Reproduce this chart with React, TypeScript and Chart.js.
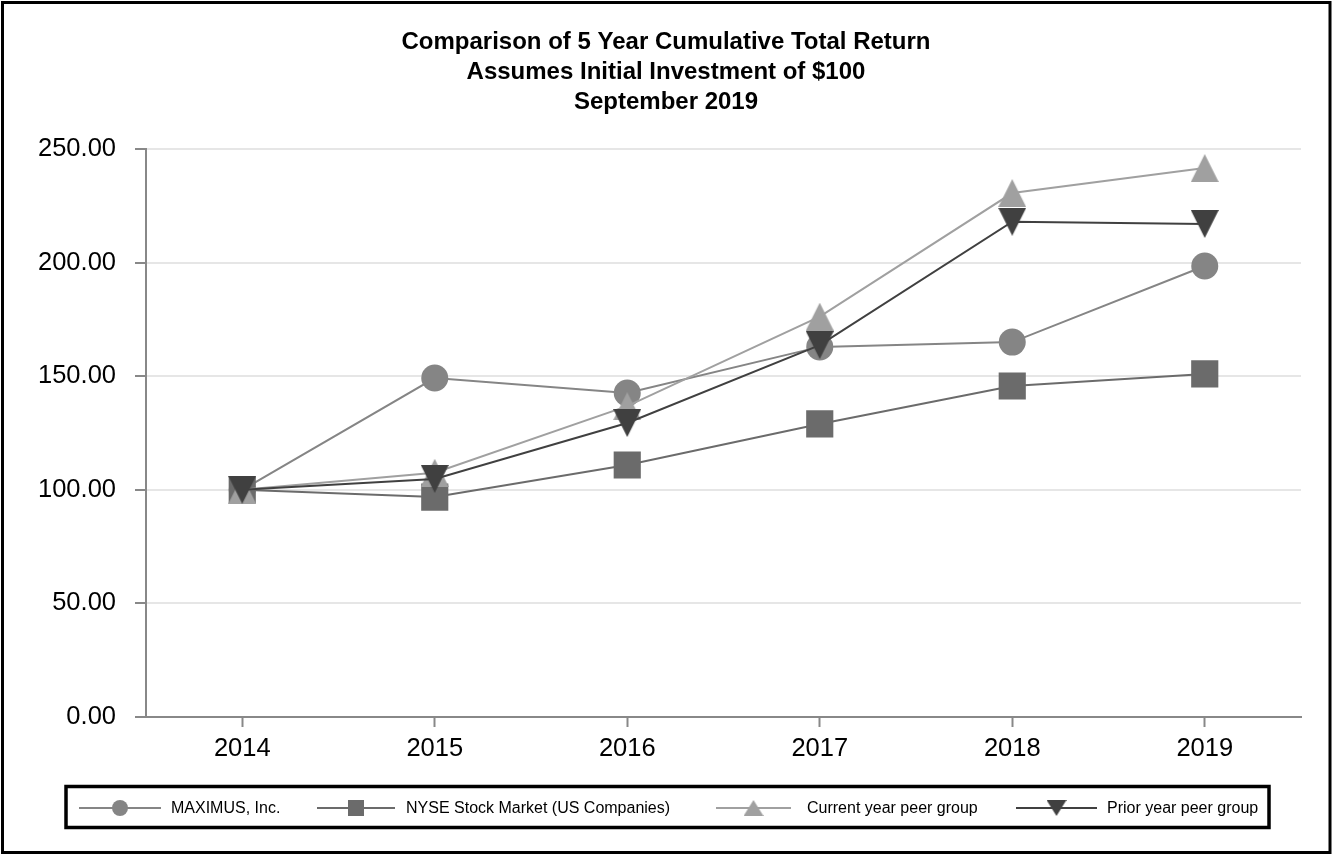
import React, { useEffect, useRef } from "react";
import { Chart, registerables } from "chart.js";
import { drawPoint } from "chart.js/helpers";

Chart.register(...registerables);

const years = ["2014", "2015", "2016", "2017", "2018", "2019"];
const maximus = [100.0, 149.2, 142.6, 162.9, 165.0, 198.5];
const nyse = [100.0, 96.8, 110.9, 129.0, 145.7, 151.0];
const currentPeer = [100.0, 107.5, 136.8, 176.2, 230.6, 241.6];
const priorPeer = [100.0, 104.8, 129.4, 163.7, 218.0, 217.0];
const titleLines = [
  "Comparison of 5 Year Cumulative Total Return",
  "Assumes Initial Investment of $100",
  "September 2019",
];
const seriesNames = [
  "MAXIMUS, Inc.",
  "NYSE Stock Market (US Companies)",
  "Current year peer group",
  "Prior year peer group",
];

const FONT = "'Liberation Sans', Arial, Helvetica, sans-serif";

function makeTriangle(w: number, h: number, color: string, down: boolean) {
  const c = document.createElement("canvas");
  c.width = w;
  c.height = h;
  const g = c.getContext("2d")!;
  g.fillStyle = color;
  g.beginPath();
  if (down) {
    g.moveTo(0, 0);
    g.lineTo(w, 0);
    g.lineTo(w / 2, h);
  } else {
    g.moveTo(w / 2, 0);
    g.lineTo(w, h);
    g.lineTo(0, h);
  }
  g.closePath();
  g.fill();
  return c;
}

const frameAndLegend = {
  id: "frameAndLegend",
  afterDraw(chart: any) {
    const ctx = chart.ctx as CanvasRenderingContext2D;
    ctx.save();
    ctx.strokeStyle = "#000";
    ctx.lineWidth = 3;
    ctx.strokeRect(2.5, 2.5, 1327.5, 850);
    ctx.lineWidth = 3.5;
    ctx.strokeRect(66, 786.5, 1203, 41);
    const y = 808;
    const items = [
      { x1: 79, x2: 161, tx: 171 },
      { x1: 317, x2: 395, tx: 406 },
      { x1: 716, x2: 791, tx: 807 },
      { x1: 1016, x2: 1097, tx: 1107 },
    ];
    chart.data.datasets.forEach((ds: any, i: number) => {
      if (!ds.legendStyle) return;
      const it = items[i];
      ctx.strokeStyle = ds.borderColor;
      ctx.lineWidth = 2;
      ctx.beginPath();
      ctx.moveTo(it.x1, y);
      ctx.lineTo(it.x2, y);
      ctx.stroke();
      ctx.fillStyle = ds.pointBackgroundColor;
      ctx.strokeStyle = ds.pointBackgroundColor;
      drawPoint(
        ctx,
        { pointStyle: ds.legendStyle, rotation: 0, radius: ds.legendRadius, borderWidth: 0 },
        (it.x1 + it.x2) / 2,
        y
      );
      ctx.fillStyle = "#000";
      ctx.font = `16px ${FONT}`;
      ctx.textBaseline = "middle";
      ctx.textAlign = "left";
      ctx.fillText(seriesNames[i], it.tx + 0, y + 1);
    });
    ctx.restore();
  },
};

export default function App() {
  const ref = useRef<HTMLCanvasElement | null>(null);
  useEffect(() => {
    document.body.style.margin = "0";
    const canvas = ref.current!;
    const upBig = makeTriangle(28, 28, "#a0a0a0", false);
    const downBig = makeTriangle(28, 28, "#404040", true);
    const upSmall = makeTriangle(20, 16, "#a0a0a0", false);
    const downSmall = makeTriangle(20, 16, "#404040", true);
    const chart = new Chart(canvas, {
      type: "line",
      data: {
        labels: years,
        datasets: [
          {
            label: seriesNames[0],
            data: maximus,
            borderColor: "#858585",
            backgroundColor: "#858585",
            pointBackgroundColor: "#858585",
            pointBorderWidth: 0,
            pointStyle: "circle",
            pointRadius: 13.5,
            borderWidth: 2,
            order: 4,
            legendStyle: "circle",
            legendRadius: 8,
          } as any,
          {
            label: seriesNames[1],
            data: nyse,
            borderColor: "#6b6b6b",
            backgroundColor: "#6b6b6b",
            pointBackgroundColor: "#6b6b6b",
            pointBorderWidth: 0,
            pointStyle: "rect",
            pointRadius: 19.2,
            borderWidth: 2,
            order: 3,
            legendStyle: "rect",
            legendRadius: 11.3,
          } as any,
          {
            label: seriesNames[2],
            data: currentPeer,
            borderColor: "#a0a0a0",
            backgroundColor: "#a0a0a0",
            pointBackgroundColor: "#a0a0a0",
            pointBorderWidth: 0,
            pointStyle: upBig,
            pointRadius: 14,
            borderWidth: 2,
            order: 2,
            legendStyle: upSmall,
            legendRadius: 10,
          } as any,
          {
            label: seriesNames[3],
            data: priorPeer,
            borderColor: "#404040",
            backgroundColor: "#404040",
            pointBackgroundColor: "#404040",
            pointBorderWidth: 0,
            pointStyle: downBig,
            pointRadius: 14,
            borderWidth: 2,
            order: 1,
            legendStyle: downSmall,
            legendRadius: 10,
          } as any,
        ],
      },
      options: {
        animation: false,
        responsive: true,
        maintainAspectRatio: false,
        layout: { padding: { left: 0, right: 0, top: 0, bottom: 100 } },
        plugins: {
          legend: { display: false },
          tooltip: { enabled: false },
          title: {
            display: true,
            text: titleLines,
            color: "#000",
            font: { family: FONT, size: 24, weight: "bold", lineHeight: 1.25 },
            padding: { top: 27, bottom: 32 },
          },
        },
        scales: {
          x: {
            offset: true,
            grid: {
              offset: false,
              drawOnChartArea: false,
              drawTicks: true,
              tickLength: 10,
              tickColor: "#888",
              tickWidth: 2,
            },
            border: { color: "#888", width: 2 },
            ticks: {
              color: "#000",
              font: { family: FONT, size: 25.5 },
              padding: 7,
              maxRotation: 0,
            },
            afterFit(scale: any) {
              scale.height = 39;
            },
          },
          y: {
            min: 0,
            max: 250,
            grid: {
              color: "#e6e6e6",
              lineWidth: 2,
              tickColor: "#888",
              tickLength: 11,
              tickWidth: 2,
            },
            border: { color: "#888", width: 2 },
            ticks: {
              stepSize: 50,
              color: "#000",
              font: { family: FONT, size: 25.5 },
              padding: 19,
              callback: (v: any) => Number(v).toFixed(2),
            },
            afterFit(scale: any) {
              scale.width = 146;
            },
          },
          yRight: {
            position: "right",
            min: 0,
            max: 250,
            grid: { display: false, drawTicks: false },
            border: { display: false },
            ticks: { display: false },
            afterFit(scale: any) {
              scale.width = 31;
            },
          },
        },
      },
      plugins: [frameAndLegend],
    });
    return () => chart.destroy();
  }, []);
  return (
    <div style={{ position: "relative", width: 1332, height: 856, background: "#fff" }}>
      <canvas ref={ref} />
    </div>
  );
}
